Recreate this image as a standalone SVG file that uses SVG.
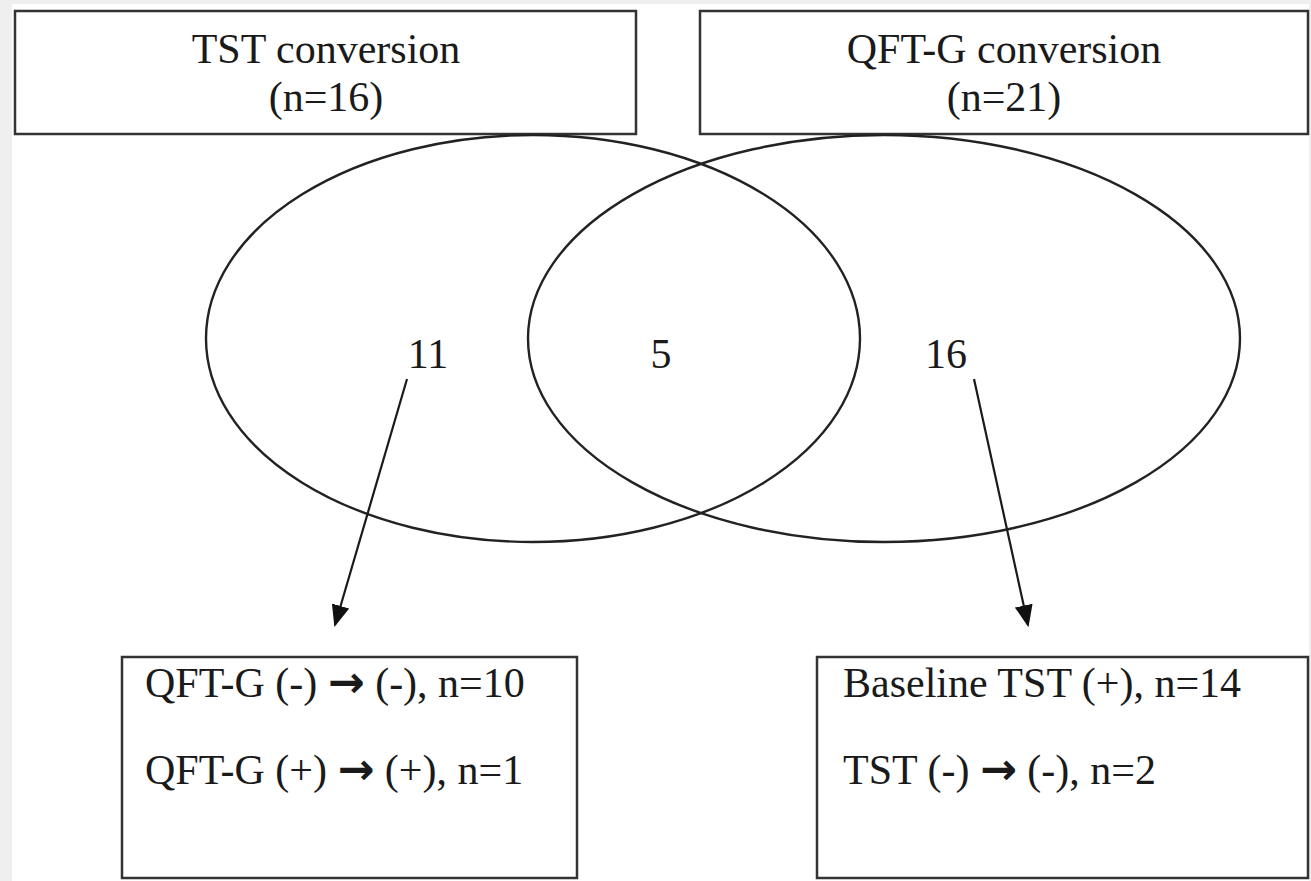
<svg xmlns="http://www.w3.org/2000/svg" width="1311" height="881" viewBox="0 0 1311 881">
<defs>
<style>
.box{fill:#fff;stroke:#333;stroke-width:2.5}
.ell{fill:none;stroke:#222;stroke-width:2.4}
.t{font-family:"Liberation Serif","Times New Roman",serif;font-size:42px;fill:#1a1a1a}
.c{text-anchor:middle}
.ar{font-family:"DejaVu Sans",sans-serif;font-weight:bold;font-size:44px}
.conn{stroke:#1a1a1a;stroke-width:2.2;fill:none}
</style>
<marker id="ah" viewBox="0 0 10 10" refX="9" refY="5" markerWidth="22" markerHeight="18" markerUnits="userSpaceOnUse" orient="auto" preserveAspectRatio="none">
<path d="M0,0 L10,5 L0,10 z" fill="#111"/>
</marker>
</defs>
<rect x="0" y="0" width="1311" height="881" fill="#efefef"/>
<rect x="12" y="4" width="1297" height="877" fill="#fff"/>
<g id="tst-box">
<rect class="box" x="15" y="11" width="621" height="123"/>
<text class="t c" x="326" y="63">TST conversion</text>
<text class="t c" x="326" y="111">(n=16)</text>
</g>
<g id="qft-box">
<rect class="box" x="700" y="11" width="608" height="123"/>
<text class="t c" x="1004" y="63">QFT-G conversion</text>
<text class="t c" x="1004" y="111">(n=21)</text>
</g>
<g id="venn">
<ellipse class="ell" cx="533" cy="338.5" rx="327" ry="203.5"/>
<ellipse class="ell" cx="884" cy="338.5" rx="356" ry="203.5"/>
<text class="t c" x="428" y="368">11</text>
<text class="t c" x="661" y="368">5</text>
<text class="t c" x="946" y="368">16</text>
</g>
<g id="left-result">
<rect class="box" x="122" y="657" width="455" height="221"/>
<text class="t" x="145" y="697">QFT-G (-) <tspan class="ar">→</tspan> (-), n=10</text>
<text class="t" x="145" y="784">QFT-G (+) <tspan class="ar">→</tspan> (+), n=1</text>
</g>
<g id="right-result">
<rect class="box" x="817" y="657" width="491" height="221"/>
<text class="t" x="843" y="697">Baseline TST (+), n=14</text>
<text class="t" x="843" y="784">TST (-) <tspan class="ar">→</tspan> (-), n=2</text>
</g>
<g id="connectors">
<line class="conn" x1="407" y1="379" x2="335" y2="625" marker-end="url(#ah)"/>
<line class="conn" x1="974" y1="379" x2="1028" y2="625" marker-end="url(#ah)"/>
</g>
</svg>
